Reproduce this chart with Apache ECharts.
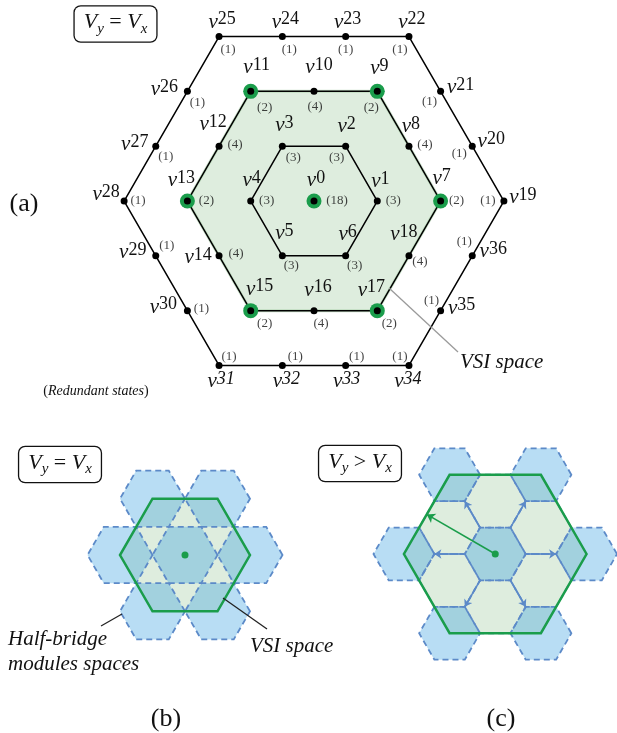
<!DOCTYPE html>
<html>
<head>
<meta charset="utf-8">
<script src="https://cdn.jsdelivr.net/npm/echarts@6/dist/echarts.min.js"></script>
<style>
html, body { margin: 0; padding: 0; background: #fff; }
#chart { width: 617px; height: 733px; }
</style>
</head>
<body>
<div id="chart"></div>
<script>
// ---------------- data ----------------
// Space-vector nodes v0..v36 in axial lattice coordinates (a along 0°, b along 60°)
const nodeLattice = [
  [0, 0],
  [1, 0], [0, 1], [-1, 1], [-1, 0], [0, -1], [1, -1],
  [2, 0], [1, 1], [0, 2], [-1, 2], [-2, 2], [-2, 1], [-2, 0], [-1, -1], [0, -2], [1, -2], [2, -2], [2, -1],
  [3, 0], [2, 1], [1, 2], [0, 3], [-1, 3], [-2, 3], [-3, 3], [-3, 2], [-3, 1], [-3, 0], [-2, -1], [-1, -2],
  [0, -3], [1, -3], [2, -3], [3, -3], [3, -2], [3, -1]
];
// number of redundant switching states of each node
const redundantStates = [
  18,
  3, 3, 3, 3, 3, 3,
  2, 4, 2, 4, 2, 4, 2, 4, 2, 4, 2, 4,
  1, 1, 1, 1, 1, 1, 1, 1, 1, 1, 1, 1, 1, 1, 1, 1, 1, 1
];
// node rings (traversal order of each hexagon outline)
const ring1 = [1, 2, 3, 4, 5, 6];
const ring2 = [7, 8, 9, 10, 11, 12, 13, 14, 15, 16, 17, 18];
const ring3 = [19, 20, 21, 22, 23, 24, 25, 26, 27, 28, 29, 30, 31, 32, 33, 34, 35, 36];
// nodes that are VSI vectors (highlighted)
const vsiNodes = [0, 7, 9, 11, 13, 15, 17];
const vsiRadiusA = 2;

// (b) V_y = V_x : half-bridge module hexagons (axial centres, unit = module radius)
const moduleHexB = [[0, 0], [2, 0], [0, 2], [-2, 2], [-2, 0], [0, -2], [2, -2]];
const vsiRadiusB = 2;

// (c) V_y > V_x
const moduleHexC = [[0, 0], [3, 0], [0, 3], [-3, 3], [-3, 0], [0, -3], [3, -3]];
const shiftedHexC = [[1, 1], [-1, 2], [-2, 1], [-1, -1], [1, -2], [2, -1]];
const vsiRadiusC = 3;
const shiftArrowStart = [[1, 0], [0, 1], [-1, 1], [-1, 0], [0, -1], [1, -1]];
const shiftArrowEnd = [[2, 0], [0, 2], [-2, 2], [-2, 0], [0, -2], [2, -2]];
const vsiArrowEnd = [-3, 1.5];

// ---------------- label placement (pixels, relative to node) ----------------
const nameOffset = [
  [2, -21],
  [3, -20], [1, -20], [2, -21], [1, -21], [2, -23], [2, -22],
  [1, -23], [2, -20], [2, -23], [5, -24], [6, -24], [-6, -22], [-6, -21], [-21, 1], [9, -22], [4, -21], [-6, -21], [-5, -22],
  [19, -4], [19, -5], [20, -4], [3, -15], [2, -15], [3, -15], [3, -15], [-23, -2], [-21, -2], [-18, -7], [-23, -4], [-24, -4],
  [2, 16], [4, 16], [1, 16], [-1, 16], [21, -3], [21, -5]
];
const countOffset = [
  [23, 0],
  [16, 0], [-9, 11], [11, 11], [16, 0], [9, 10], [9, 10],
  [16, 0], [16, -2], [-6, 16], [1, 15], [14, 16], [16, -2], [19, 0], [17, -2], [14, 13], [7, 13], [12, 13], [11, 6],
  [-16, 0], [-13, 7], [-11, 10], [-9, 13], [0, 13], [7, 13], [9, 13], [10, 11], [10, 10], [14, 0], [11, -10], [14, -2],
  [10, -9], [13, -9], [11, -9], [-9, -9], [-9, -10], [-8, -14]
];

// ---------------- helpers ----------------
const SERIF = "'Liberation Serif', 'DejaVu Serif', serif";
const S3 = Math.sqrt(3) / 2;
const toXY = (p) => [p[0] + p[1] / 2, p[1] * S3];

const GREEN = '#1a9d4b';
const DASH = 'rgb(92,138,200)';
const BLUE_FILL = 'rgba(46,155,222,0.34)';
const LIGHT_GREEN = 'rgb(222,237,222)';

function hexSeries(id, grid, centres, radius, style, z) {
  return {
    type: 'custom',
    id: id,
    coordinateSystem: 'cartesian2d',
    xAxisIndex: grid, yAxisIndex: grid,
    silent: true,
    z: z,
    data: centres.map(toXY),
    renderItem: function (params, api) {
      const cx = api.value(0), cy = api.value(1);
      const pts = [];
      for (let k = 0; k < 6; k++) {
        const t = Math.PI / 3 * k;
        pts.push(api.coord([cx + radius * Math.cos(t), cy + radius * Math.sin(t)]));
      }
      return { type: 'polygon', shape: { points: pts }, style: Object.assign({}, style) };
    }
  };
}

function ringLine(nodes) {
  const pts = nodes.concat([nodes[0]]).map(i => toXY(nodeLattice[i]));
  return {
    type: 'line', xAxisIndex: 0, yAxisIndex: 0, data: pts,
    showSymbol: false, symbol: 'none', silent: true, clip: false, z: 3,
    lineStyle: { color: '#000', width: 1.5 }
  };
}

const nameRich = {
  v: { fontFamily: SERIF, fontStyle: 'italic', fontSize: 21, lineHeight: 22, verticalAlign: 'bottom', padding: [7, 0, 0, 0], color: '#111' },
  s: { fontFamily: SERIF, fontSize: 18, lineHeight: 18, verticalAlign: 'top', color: '#111' },
  si: { fontFamily: SERIF, fontStyle: 'italic', fontSize: 18, lineHeight: 18, verticalAlign: 'top', color: '#111' }
};

function boxText(x, y, rel) {
  return {
    type: 'text', x: x, y: y, z: 100,
    style: {
      text: '{i|V}{sub|y}{n| ' + rel + ' }{i|V}{sub|x}',
      align: 'center', verticalAlign: 'middle',
      textAlign: 'center', textVerticalAlign: 'middle',
      padding: [5, 9, 5, 9],
      borderColor: '#111', borderWidth: 1.3, borderRadius: 6,
      backgroundColor: '#fff',
      rich: {
        i: { fontFamily: SERIF, fontStyle: 'italic', fontSize: 22, lineHeight: 25, verticalAlign: 'top', fill: '#111' },
        n: { fontFamily: SERIF, fontSize: 22, lineHeight: 25, verticalAlign: 'top', fill: '#111' },
        sub: { fontFamily: SERIF, fontStyle: 'italic', fontSize: 15, lineHeight: 15, verticalAlign: 'bottom', fill: '#111' }
      }
    }
  };
}

function plainText(x, y, text, size, italic, align) {
  return {
    type: 'text', x: x, y: y, z: 100,
    style: {
      text: text, fill: '#111',
      font: (italic ? 'italic ' : '') + size + 'px ' + SERIF,
      align: align || 'center', verticalAlign: 'middle',
      textAlign: align || 'center', textVerticalAlign: 'middle'
    }
  };
}

function leader(x1, y1, x2, y2, color) {
  return {
    type: 'line', z: 100,
    shape: { x1: x1, y1: y1, x2: x2, y2: y2 },
    style: { stroke: color, lineWidth: 1.3 }
  };
}

// ---------------- chart ----------------
const chart = echarts.init(document.getElementById('chart'), null, { renderer: 'canvas' });

const hiddenAxis = { type: 'value', show: false, splitLine: { show: false } };

const option = {
  animation: false,
  backgroundColor: '#fff',
  grid: [
    { left: 60.8, top: 11.1, width: 506.4, height: 379.8 },   // (a)
    { left: 55, top: 425, width: 260, height: 260 },          // (b)
    { left: 373.5, top: 432, width: 244, height: 244 }        // (c)
  ],
  xAxis: [
    Object.assign({ gridIndex: 0, min: -4, max: 4 }, hiddenAxis),
    Object.assign({ gridIndex: 1, min: -4, max: 4 }, hiddenAxis),
    Object.assign({ gridIndex: 2, min: -4, max: 4 }, hiddenAxis)
  ],
  yAxis: [
    Object.assign({ gridIndex: 0, min: -3, max: 3 }, hiddenAxis),
    Object.assign({ gridIndex: 1, min: -4, max: 4 }, hiddenAxis),
    Object.assign({ gridIndex: 2, min: -4, max: 4 }, hiddenAxis)
  ],
  series: [
    // ---- (a) space vector diagram ----
    hexSeries('vsiA', 0, [[0, 0]], vsiRadiusA,
      { fill: LIGHT_GREEN, stroke: 'rgba(170,210,170,0.6)', lineWidth: 3 }, 1),
    ringLine(ring1),
    ringLine(ring2),
    ringLine(ring3),
    {
      type: 'scatter', xAxisIndex: 0, yAxisIndex: 0, silent: true, z: 4,
      symbolSize: 15, itemStyle: { color: GREEN, opacity: 1 },
      data: vsiNodes.map(i => toXY(nodeLattice[i]))
    },
    {
      type: 'scatter', xAxisIndex: 0, yAxisIndex: 0, silent: true, z: 5,
      symbolSize: 7, itemStyle: { color: '#000', opacity: 1 },
      data: nodeLattice.map((p, i) => ({ value: toXY(p), label: { offset: nameOffset[i] } })),
      label: {
        show: true, position: 'inside',
        formatter: (p) => '{v|v}{' + (p.dataIndex >= 31 && p.dataIndex <= 34 ? 'si' : 's') + '|' + p.dataIndex + '}',
        rich: nameRich
      }
    },
    {
      type: 'scatter', xAxisIndex: 0, yAxisIndex: 0, silent: true, z: 5,
      symbolSize: 1, itemStyle: { color: 'rgba(0,0,0,0)' },
      data: nodeLattice.map((p, i) => ({ value: toXY(p), label: { offset: countOffset[i] } })),
      label: {
        show: true, position: 'inside',
        formatter: (p) => '(' + redundantStates[p.dataIndex] + ')',
        fontFamily: SERIF, fontSize: 13, color: '#111'
      }
    },

    // ---- (b) V_y = V_x ----
    hexSeries('vsiFillB', 1, [[0, 0]], vsiRadiusB, { fill: LIGHT_GREEN }, 1),
    hexSeries('modFillB', 1, moduleHexB, 1, { fill: BLUE_FILL }, 2),
    hexSeries('modEdgeB', 1, moduleHexB, 1, { fill: 'none', stroke: DASH, lineWidth: 1.8, lineDash: [6, 4] }, 3),
    hexSeries('vsiEdgeB', 1, [[0, 0]], vsiRadiusB, { fill: 'none', stroke: GREEN, lineWidth: 2.5 }, 4),
    {
      type: 'scatter', xAxisIndex: 1, yAxisIndex: 1, silent: true, z: 6,
      symbolSize: 7, itemStyle: { color: GREEN, opacity: 1 }, data: [[0, 0]]
    },

    // ---- (c) V_y > V_x ----
    hexSeries('vsiFillC', 2, [[0, 0]], vsiRadiusC, { fill: LIGHT_GREEN }, 1),
    hexSeries('modFillC', 2, moduleHexC, 1, { fill: BLUE_FILL }, 2),
    hexSeries('modEdgeC', 2, moduleHexC.concat(shiftedHexC), 1,
      { fill: 'none', stroke: DASH, lineWidth: 1.8, lineDash: [6, 4] }, 3),
    hexSeries('vsiEdgeC', 2, [[0, 0]], vsiRadiusC, { fill: 'none', stroke: GREEN, lineWidth: 2.5 }, 4),
    {
      type: 'lines', coordinateSystem: 'cartesian2d', xAxisIndex: 2, yAxisIndex: 2, silent: true, z: 5,
      symbol: ['none', 'arrow'], symbolSize: 7,
      lineStyle: { color: DASH, width: 1.5, opacity: 1 },
      data: shiftArrowStart.map((s, i) => ({ coords: [toXY(s), toXY(shiftArrowEnd[i])] }))
    },
    {
      type: 'lines', coordinateSystem: 'cartesian2d', xAxisIndex: 2, yAxisIndex: 2, silent: true, z: 5,
      symbol: ['none', 'arrow'], symbolSize: 8,
      lineStyle: { color: GREEN, width: 1.6, opacity: 1 },
      data: [{ coords: [toXY([0, 0]), toXY(vsiArrowEnd)] }]
    },
    {
      type: 'scatter', xAxisIndex: 2, yAxisIndex: 2, silent: true, z: 6,
      symbolSize: 7, itemStyle: { color: GREEN, opacity: 1 }, data: [[0, 0]]
    }
  ],
  graphic: [
    boxText(115.5, 24, '='),
    boxText(60, 464.5, '='),
    boxText(360, 463.5, '>'),
    plainText(24, 204, '(a)', 26, false),
    plainText(166, 719, '(b)', 26, false),
    plainText(501, 719, '(c)', 26, false),
    {
      type: 'text', x: 96, y: 391, z: 100,
      style: {
        text: '{p|(}{i|Redundant states}{p|)}',
        align: 'center', verticalAlign: 'middle', textAlign: 'center', textVerticalAlign: 'middle',
        rich: {
          p: { fontFamily: SERIF, fontSize: 14, fill: '#111' },
          i: { fontFamily: SERIF, fontSize: 14, fontStyle: 'italic', fill: '#111' }
        }
      }
    },
    leader(389, 288, 458, 352, '#9a9a9a'),
    plainText(460, 362, 'VSI space', 21, true, 'left'),
    leader(122, 614, 101, 626, '#222'),
    plainText(8, 639, 'Half-bridge', 21, true, 'left'),
    plainText(8, 664, 'modules spaces', 21, true, 'left'),
    leader(223, 598, 267, 629, '#222'),
    plainText(250, 646, 'VSI space', 21, true, 'left')
  ]
};

chart.setOption(option);
</script>
</body>
</html>
